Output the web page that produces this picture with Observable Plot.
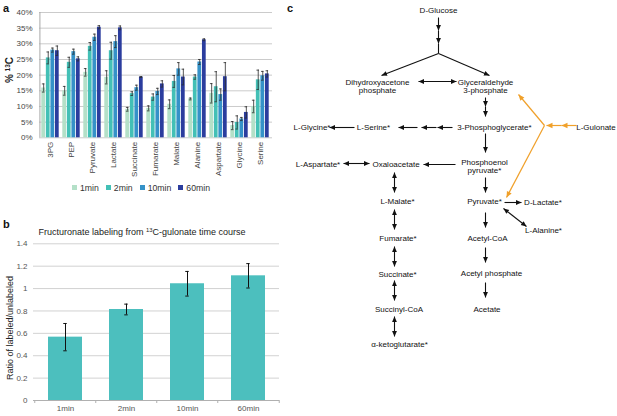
<!DOCTYPE html>
<html><head><meta charset="utf-8">
<script src="https://cdn.jsdelivr.net/npm/d3@7"></script>
<script src="https://cdn.jsdelivr.net/npm/@observablehq/plot@0.6"></script>
<style>
body{margin:0;background:#fff;}
#wrap{position:relative;width:617px;height:416px;overflow:hidden;font-family:"Liberation Sans",Arial,sans-serif;background:#fff;}
.plbl{font-weight:bold;font-size:11px;line-height:11px;color:#111;}
#legA, #legA *{font-family:"Liberation Sans",Arial,sans-serif !important;font-size:8.7px !important;color:#333 !important;}
#legA [class$="-swatch"]{margin-right:7px !important;}
#legA svg{margin-right:3px !important;}
sup{font-size:0.65em;vertical-align:0.45em;line-height:0;}
</style></head><body><div id="wrap"></div>
<script>
// ---------- Panel a data ----------
const metabolites = ["3PG","PEP","Pyruvate","Lactate","Succinate","Fumarate","Malate","Alanine","Aspartate","Glycine","Serine"];
const times = ["1min","2min","10min","60min"];
const pct1min  = [15.9,15.0,20.9,19.3, 9.1, 9.4,10.7,12.4,14.2,3.9,10.0];
const pct2min  = [25.5,24.1,29.2,27.8,14.1,13.0,18.0,19.4,16.3,4.9,18.5];
const pct10min = [28.0,27.5,32.1,30.7,16.0,14.8,22.0,24.2,13.8,6.0,19.8];
const pct60min = [27.8,25.2,35.3,35.1,19.4,17.2,19.4,31.3,19.5,8.1,20.4];
const err1min  = [1.3,1.4,1.2,2.1,0.6,0.8,1.4,0.3,3.1,1.3,2.0];
const err2min  = [1.9,1.6,1.2,2.7,0.6,1.0,1.9,0.7,4.8,2.1,3.1];
const err10min = [0.65,0.8,1.0,1.9,0.8,1.0,2.0,0.8,1.8,0.5,1.4];
const err60min = [1.5,0.65,0.5,0.6,0.15,1.0,2.5,0.3,4.5,1.8,1.0];
const yTicksA = [0,0.05,0.1,0.15,0.2,0.25,0.3,0.35,0.4];
const colorsA = ["#b4e0c8","#43c0b6","#3592c8","#2b3d9e"];

// ---------- Panel b data ----------
const timepoints = ["1min","2min","10min","60min"];
const ratio = [0.566,0.813,1.043,1.114];
const ratioErr = [0.122,0.048,0.11,0.109];
const yTicksB = [0,0.2,0.4,0.6,0.8,1,1.2,1.4];

// ---------- Panel c layout (diagram units) ----------
const nodeNames = ["D-Glucose","Dihydroxyacetone\nphosphate","Glyceraldehyde\n3-phosphate","3-Phosphoglycerate*","L-Serine*","L-Glycine*","L-Gulonate","Phosphoenol\npyruvate*","Oxaloacetate","L-Aspartate*","Pyruvate*","D-Lactate*","L-Alanine*","L-Malate*","Fumarate*","Acetyl-CoA","Succinate*","Acetyl phosphate","Succinyl-CoA","Acetate","α-ketoglutarate*"];
const nodeX = [438,377,485,494,373,311.5,595.5,484,395.5,317.5,484,542.5,543,397,397.5,487,397,491,398.5,486.5,399];
const nodeY = [10,86,86,127,127,127,127,166,164,164,201,202,230,201,237.5,237.5,273.5,272.5,309,308.5,344];
// arrows: [x1,y1,x2,y2]
const plainLines = [[438,43,438,53]];
const singleArrows = [
  [438,17,438,30],[438,30,438,43],[438,53,381,75],[438,53,489,75],
  [485,97,485,106],[485,106,485,116],
  [452,127,437,127],[436,127,421,127],[417,127,398,127],[354,127,329,127],
  [485,133,485,152],[455,164,423,164],[485,177,485,192],[504,202,521,202],
  [485,212,485,227],[485,247,485,262],[485,282,485,297]
];
const doubleArrows = [
  [418,81,456,81],[343,163,369,163],[503,208,526,226],
  [394,172,394,192],[394,209,394,229],[394,246,394,266],[394,280,394,300],[394,316,394,336]
];
const orangeArrows = [[576,125,561,125],[561,125,546,125],[544,125,518,94],[544,125,506,197]];

// ---------- helpers ----------
const wrap = document.getElementById("wrap");
const FONT = '"Liberation Sans", Arial, sans-serif';
function place(el, left, top){el.style.position="absolute";el.style.left=left+"px";el.style.top=top+"px";wrap.appendChild(el);return el;}
function div(html, left, top, css){const d=document.createElement("div");d.innerHTML=html;d.style.cssText=css||"";return place(d,left,top);}
function vlabel(html, cx, cy, w, h, css){
  const d=document.createElement("div");d.innerHTML=html;
  d.style.cssText=`width:${w}px;height:${h}px;line-height:${h}px;text-align:center;white-space:nowrap;transform:rotate(-90deg);transform-origin:50% 50%;`+(css||"");
  return place(d, cx-w/2, cy-h/2);
}
const seg = a => ({x1:a[0],y1:a[1],x2:a[2],y2:a[3]});

// ---------- Panel a ----------
const seriesA=[pct1min,pct2min,pct10min,pct60min];
const errA=[err1min,err2min,err10min,err60min];
const dataA = times.flatMap((t,j)=>metabolites.map((m,i)=>({metabolite:m,time:t,j,value:seriesA[j][i]/100,err:errA[j][i]/100})));
const WA=275,HA=182,mlA=39,mrA=3,mtA=12,mbA=HA-137.3;
const piA=0.14,poA=0.07;
const stepA=(WA-mlA-mrA)/(metabolites.length-piA+2*poA);
const bwA=stepA*(1-piA), qA=bwA/4, capA=2.8;
const marksA=[
  Plot.ruleY(yTicksA,{stroke:"#cbcbcb",strokeWidth:1}),
  Plot.ruleX([metabolites[0]],{dx:-(stepA*poA+bwA/2),y1:0,y2:0.4,stroke:"#a8a8a8"})
];
times.forEach((t,j)=>{
  const d=dataA.filter(e=>e.j===j);
  marksA.push(Plot.barY(d,{x:"metabolite",y:"value",fill:"time",insetLeft:j*qA+0.3,insetRight:(3-j)*qA+0.3}));
});
times.forEach((t,j)=>{
  const d=dataA.filter(e=>e.j===j);
  const sty={stroke:"#2b2b2b",strokeWidth:0.8};
  marksA.push(Plot.ruleX(d,{x:"metabolite",y1:e=>e.value-e.err,y2:e=>e.value+e.err,dx:(j-1.5)*qA,...sty}));
  marksA.push(Plot.tickY(d,{x:"metabolite",y:e=>e.value+e.err,dx:(j-1.5)*qA,insetLeft:(bwA-capA)/2,insetRight:(bwA-capA)/2,...sty}));
  marksA.push(Plot.tickY(d,{x:"metabolite",y:e=>e.value-e.err,dx:(j-1.5)*qA,insetLeft:(bwA-capA)/2,insetRight:(bwA-capA)/2,...sty}));
});
const chartA=Plot.plot({
  width:WA,height:HA,marginLeft:mlA,marginRight:mrA,marginTop:mtA,marginBottom:mbA,
  style:{fontFamily:FONT,fontSize:"8px",color:"#444",background:"transparent",overflow:"visible"},
  x:{domain:metabolites,paddingInner:piA,paddingOuter:poA,tickSize:0,tickPadding:4,tickRotate:-90,label:null},
  y:{domain:[0,0.4],ticks:yTicksA,tickFormat:d3.format(".0%"),tickSize:0,tickPadding:7,label:null},
  color:{domain:times,range:colorsA},
  marks:marksA
});
place(chartA,0,0);
const legA=Plot.legend({color:{domain:times,range:colorsA},legend:"swatches",swatchSize:5});
legA.id="legA";
place(legA,72,171);
vlabel("% <sup>13</sup>C",10,70,60,12,`font-family:${FONT};font-size:10px;font-weight:bold;color:#222;`);

// ---------- Panel b ----------
const dataB=timepoints.map((t,i)=>({time:t,ratio:ratio[i],err:ratioErr[i]}));
const topB=236,WB=282,HB=180,mlB=33,mrB=3;
const piB=0.447,poB=0.2236;
const stepB=(WB-mlB-mrB)/(timepoints.length-piB+2*poB);
const bwB=stepB*(1-piB), capB=3.5;
const chartB=Plot.plot({
  width:WB,height:HB,marginLeft:mlB,marginRight:mrB,marginTop:243.3-topB,marginBottom:topB+HB-400,
  style:{fontFamily:FONT,fontSize:"8px",color:"#555",background:"transparent",overflow:"visible"},
  x:{domain:timepoints,paddingInner:piB,paddingOuter:poB,tickSize:0,tickPadding:5,label:null},
  y:{domain:[0,1.4],ticks:yTicksB,tickFormat:d=>String(+d.toFixed(1)),tickSize:0,tickPadding:6,label:null},
  marks:[
    Plot.ruleY(yTicksB.slice(1),{stroke:"#d2d2d2",strokeWidth:1}),
    Plot.barY(dataB,{x:"time",y:"ratio",fill:"#4cbfbe"}),
    Plot.ruleY([0],{stroke:"#b0b0b0"}),
    Plot.ruleX(timepoints,{dx:-stepB/2,y1:0,y2:0,insetBottom:-3,stroke:"#b0b0b0"}),
    Plot.ruleX([timepoints[timepoints.length-1]],{dx:stepB/2,y1:0,y2:0,insetBottom:-3,stroke:"#b0b0b0"}),
    Plot.ruleX(dataB,{x:"time",y1:d=>d.ratio-d.err,y2:d=>d.ratio+d.err,stroke:"#111",strokeWidth:1}),
    Plot.tickY(dataB,{x:"time",y:d=>d.ratio+d.err,insetLeft:(bwB-capB)/2,insetRight:(bwB-capB)/2,stroke:"#111",strokeWidth:1}),
    Plot.tickY(dataB,{x:"time",y:d=>d.ratio-d.err,insetLeft:(bwB-capB)/2,insetRight:(bwB-capB)/2,stroke:"#111",strokeWidth:1})
  ]
});
place(chartB,0,topB);
div("Fructuronate labeling from <sup>13</sup>C-gulonate time course",2,226,`width:280px;text-align:center;font-family:${FONT};font-size:9px;line-height:12px;color:#222;white-space:nowrap;`);
vlabel("Ratio of labeled/unlabeled",10,328,140,12,`font-family:${FONT};font-size:9px;color:#222;`);

// ---------- Panel c ----------
const nodes=nodeNames.map((n,i)=>({name:n,x:nodeX[i],y:nodeY[i]}));
const chartC=Plot.plot({
  width:337,height:416,margin:0,
  style:{fontFamily:FONT,fontSize:"8px",color:"#111",background:"transparent",overflow:"visible"},
  x:{type:"linear",domain:[280,617],range:[0,337],axis:null},
  y:{type:"linear",domain:[0,416],range:[0,416],axis:null},
  marks:[
    Plot.link(plainLines.map(seg),{x1:"x1",y1:"y1",x2:"x2",y2:"y2",stroke:"#111",strokeWidth:1.1}),
    Plot.link(singleArrows.map(seg),{x1:"x1",y1:"y1",x2:"x2",y2:"y2",stroke:"#111",strokeWidth:1.1,markerEnd:"arrow"}),
    Plot.link(doubleArrows.map(seg),{x1:"x1",y1:"y1",x2:"x2",y2:"y2",stroke:"#111",strokeWidth:1.1,markerStart:"arrow",markerEnd:"arrow"}),
    Plot.link(orangeArrows.map(seg),{x1:"x1",y1:"y1",x2:"x2",y2:"y2",stroke:"#f0a02a",strokeWidth:1.2,markerEnd:"arrow"}),
    Plot.text(nodes,{x:"x",y:"y",text:"name",fill:"#111",fontSize:8,lineHeight:1.05,textAnchor:"middle"})
  ]
});
d3.select(chartC).selectAll("marker").each(function(){
  const m=d3.select(this);const c=m.attr("stroke")||"#111";
  m.attr("viewBox","-8 -5 10 10").attr("orient","auto-start-reverse").attr("fill",c).attr("stroke","none");
  m.selectAll("path").attr("d","M-7.5,-3.3L0,0L-7.5,3.3Z");
});
place(chartC,280,0);

// ---------- panel letters ----------
div("a",3,3,"").className="plbl";
div("b",3,219,"").className="plbl";
div("c",287,3,"").className="plbl";
</script></body></html>
